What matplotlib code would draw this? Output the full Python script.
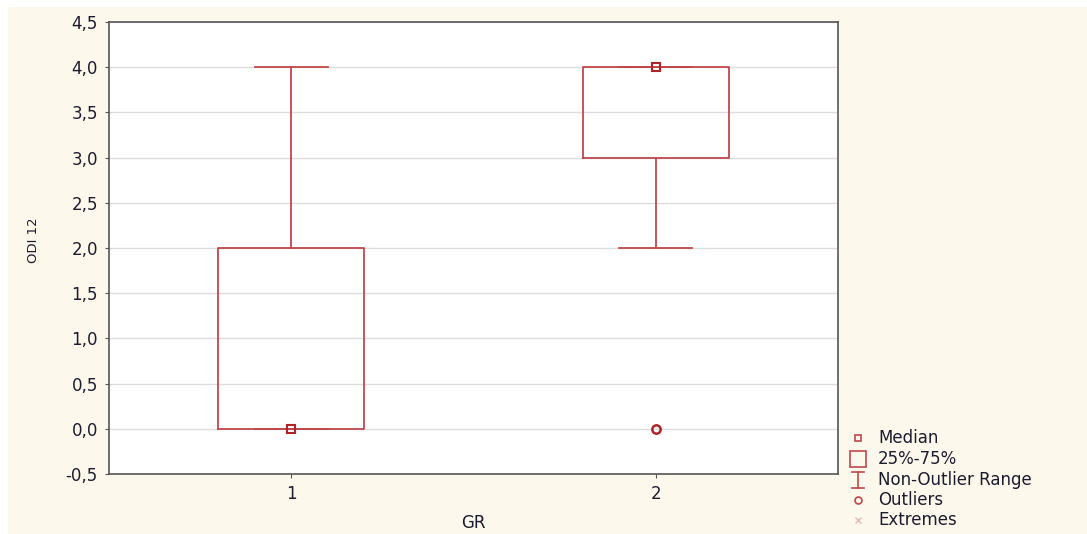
import matplotlib
matplotlib.use("Agg")
import matplotlib.pyplot as plt
from matplotlib.patches import Rectangle
from matplotlib.lines import Line2D

plt.rcParams['font.family'] = ['DejaVu Sans']

groups = ["1", "2"]
q1 = [0.0, 3.0]
q3 = [2.0, 4.0]
medians = [0.0, 4.0]
whisker_lo = [0.0, 2.0]
whisker_hi = [4.0, 4.0]
outliers = [[], [0.0]]

yticks = [-0.5, 0.0, 0.5, 1.0, 1.5, 2.0, 2.5, 3.0, 3.5, 4.0, 4.5]

cream = "#fdf8ec"
red = "#c0484c"
dark_red = "#b02428"
text_col = "#1c1c30"
fs = 12

fig = plt.figure(figsize=(10.87, 5.34), dpi=100)
fig.patch.set_facecolor("white")
fig.add_artist(Rectangle((8 / 1087, 0), 1, 527 / 534, transform=fig.transFigure,
                         facecolor=cream, edgecolor="none", zorder=-10))

ax = fig.add_axes([109 / 1087, 60 / 534, 729 / 1087, 452 / 534])
ax.set_facecolor("white")

stats = []
for i in range(len(groups)):
    stats.append({"label": groups[i], "q1": q1[i], "q3": q3[i], "med": medians[i],
                  "whislo": whisker_lo[i], "whishi": whisker_hi[i], "fliers": outliers[i]})

ax.bxp(stats, positions=[1, 2], widths=0.4, showfliers=True,
       boxprops=dict(color=red, linewidth=1.3),
       whiskerprops=dict(color=red, linewidth=1.3),
       capprops=dict(color=red, linewidth=1.3),
       medianprops=dict(linestyle="none"),
       flierprops=dict(marker="o", markersize=6, markerfacecolor="none",
                       markeredgecolor=dark_red, markeredgewidth=1.8),
       zorder=3)
for i in range(len(groups)):
    ax.plot(i + 1, medians[i], marker="s", markersize=6, markerfacecolor="none",
            markeredgecolor=dark_red, markeredgewidth=1.5, zorder=4)

ax.set_xlim(0.5, 2.5)
ax.set_ylim(-0.5, 4.5)
ax.set_yticks(yticks)
ax.set_yticklabels([f"{v:.1f}".replace(".", ",") for v in yticks])
ax.set_xticks([1, 2])
ax.set_xticklabels(groups)
ax.yaxis.grid(True, color="#dcdcdc", linewidth=1)
ax.set_axisbelow(True)
for s in ax.spines.values():
    s.set_color("#555555")
    s.set_linewidth(1.2)
ax.tick_params(colors="#555555", labelcolor=text_col, labelsize=fs, length=3, pad=5)
ax.set_xlabel("GR", fontsize=fs, color=text_col, labelpad=8)
ax.set_ylabel("ODI 12", fontsize=9.5, color=text_col)
ax.yaxis.set_label_coords(-0.095, 0.518)

# legend drawn outside to the right
W, H = 1087, 534
leg_x = 858 / W
txt_x = 878 / W
rows = [438, 459, 480, 500, 520]
labels = ["Median", "25%-75%", "Non-Outlier Range", "Outliers", "Extremes"]
for y, lab in zip(rows, labels):
    fig.text(txt_x, 1 - y / H, lab, fontsize=fs, color=text_col, va="center", ha="left")

fy = lambda y: 1 - y / H
fig.add_artist(Line2D([leg_x], [fy(rows[0])], marker="s", markersize=5, markerfacecolor="none",
                      markeredgecolor=red, markeredgewidth=1.2, transform=fig.transFigure))
fig.add_artist(Line2D([leg_x], [fy(rows[1])], marker="s", markersize=12, markerfacecolor="none",
                      markeredgecolor=red, markeredgewidth=1.2, transform=fig.transFigure))
fig.add_artist(Line2D([leg_x, leg_x], [fy(rows[2] - 8), fy(rows[2] + 8)], color=red, lw=1.2,
                      transform=fig.transFigure))
fig.add_artist(Line2D([leg_x - 6 / W, leg_x + 6 / W], [fy(rows[2] - 8)] * 2, color=red, lw=1.2,
                      transform=fig.transFigure))
fig.add_artist(Line2D([leg_x - 6 / W, leg_x + 6 / W], [fy(rows[2] + 8)] * 2, color=red, lw=1.2,
                      transform=fig.transFigure))
fig.add_artist(Line2D([leg_x], [fy(rows[3])], marker="o", markersize=5, markerfacecolor="none",
                      markeredgecolor=red, markeredgewidth=1.2, transform=fig.transFigure))
fig.add_artist(Line2D([leg_x], [fy(rows[4])], marker="x", markersize=4, color="#e8b8b8",
                      markeredgewidth=1, transform=fig.transFigure))

fig.savefig("out.png", dpi=100, facecolor=fig.get_facecolor())
